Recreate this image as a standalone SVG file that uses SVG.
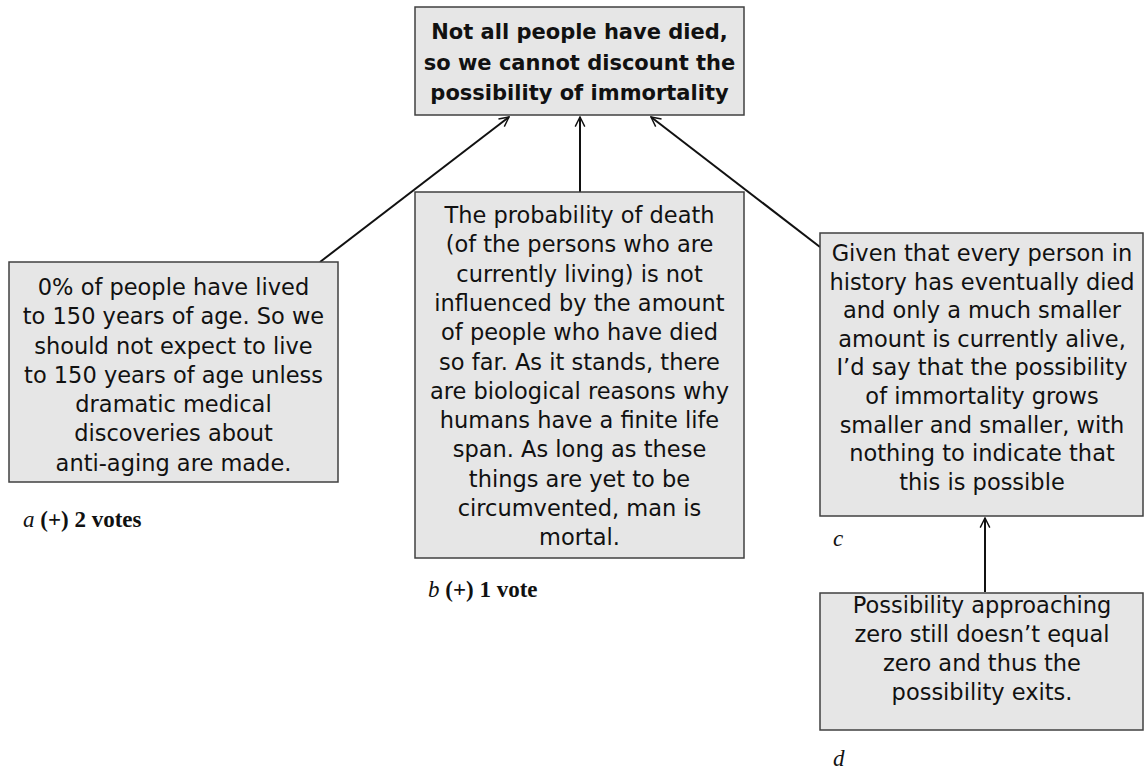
<svg xmlns="http://www.w3.org/2000/svg" width="1145" height="769" viewBox="0 0 1145 769">
<style>
.box{fill:#e6e6e6;stroke:#404040;stroke-width:1.5}
.t{font-family:"DejaVu Sans",sans-serif;font-size:22.5px;fill:#111;text-anchor:middle}
.tb{font-family:"DejaVu Sans",sans-serif;font-size:21px;font-weight:bold;fill:#111;text-anchor:middle}
.lab{font-family:"Liberation Serif",serif;font-size:23px;fill:#111}
.conn{stroke:#111;stroke-width:2;fill:none;marker-end:url(#arr)}
</style>
<defs>
<marker id="arr" viewBox="0 0 10 10" refX="9" refY="5" markerWidth="6" markerHeight="6" orient="auto" markerUnits="strokeWidth">
<path d="M1,1 L9,5 L1,9" fill="none" stroke="#111" stroke-width="1.2"/>
</marker>
</defs>
<g id="connectors">
<line class="conn" x1="320" y1="262" x2="509" y2="117"/>
<line class="conn" x1="580" y1="192" x2="580" y2="117"/>
<line class="conn" x1="820" y1="247" x2="651" y2="117"/>
<line class="conn" x1="985" y1="592" x2="985" y2="518"/>
</g>
<g id="root">
<rect class="box" x="415" y="7" width="329" height="108"/>
<text class="tb" x="579.5" y="39">Not all people have died,</text>
<text class="tb" x="579.5" y="70">so we cannot discount the</text>
<text class="tb" x="579.5" y="100">possibility of immortality</text>
</g>
<g id="node-a">
<rect class="box" x="9" y="262" width="329" height="220"/>
<text class="t" x="173.5" y="295">0% of people have lived</text>
<text class="t" x="173.5" y="324">to 150 years of age. So we</text>
<text class="t" x="173.5" y="354">should not expect to live</text>
<text class="t" x="173.5" y="383">to 150 years of age unless</text>
<text class="t" x="173.5" y="412">dramatic medical</text>
<text class="t" x="173.5" y="441">discoveries about</text>
<text class="t" x="173.5" y="471">anti-aging are made.</text>
<text class="lab" x="23" y="527"><tspan font-style="italic">a</tspan> <tspan font-weight="bold">(+) 2 votes</tspan></text>
</g>
<g id="node-b">
<rect class="box" x="415" y="192" width="329" height="366"/>
<text class="t" x="579.5" y="223">The probability of death</text>
<text class="t" x="579.5" y="252">(of the persons who are</text>
<text class="t" x="579.5" y="282">currently living) is not</text>
<text class="t" x="579.5" y="311">influenced by the amount</text>
<text class="t" x="579.5" y="340">of people who have died</text>
<text class="t" x="579.5" y="370">so far. As it stands, there</text>
<text class="t" x="579.5" y="399">are biological reasons why</text>
<text class="t" x="579.5" y="428">humans have a finite life</text>
<text class="t" x="579.5" y="457">span. As long as these</text>
<text class="t" x="579.5" y="487">things are yet to be</text>
<text class="t" x="579.5" y="516">circumvented, man is</text>
<text class="t" x="579.5" y="545">mortal.</text>
<text class="lab" x="428" y="597"><tspan font-style="italic">b</tspan> <tspan font-weight="bold">(+) 1 vote</tspan></text>
</g>
<g id="node-c">
<rect class="box" x="820" y="233" width="323" height="283"/>
<text class="t" x="982" y="261">Given that every person in</text>
<text class="t" x="982" y="290">history has eventually died</text>
<text class="t" x="982" y="318">and only a much smaller</text>
<text class="t" x="982" y="347">amount is currently alive,</text>
<text class="t" x="982" y="375">I’d say that the possibility</text>
<text class="t" x="982" y="404">of immortality grows</text>
<text class="t" x="982" y="433">smaller and smaller, with</text>
<text class="t" x="982" y="461">nothing to indicate that</text>
<text class="t" x="982" y="490">this is possible</text>
<text class="lab" x="833" y="546" font-style="italic">c</text>
</g>
<g id="node-d">
<rect class="box" x="820" y="593" width="323" height="137"/>
<text class="t" x="982" y="613">Possibility approaching</text>
<text class="t" x="982" y="642">zero still doesn’t equal</text>
<text class="t" x="982" y="671">zero and thus the</text>
<text class="t" x="982" y="700">possibility exits.</text>
<text class="lab" x="833" y="766" font-style="italic">d</text>
</g>
</svg>
